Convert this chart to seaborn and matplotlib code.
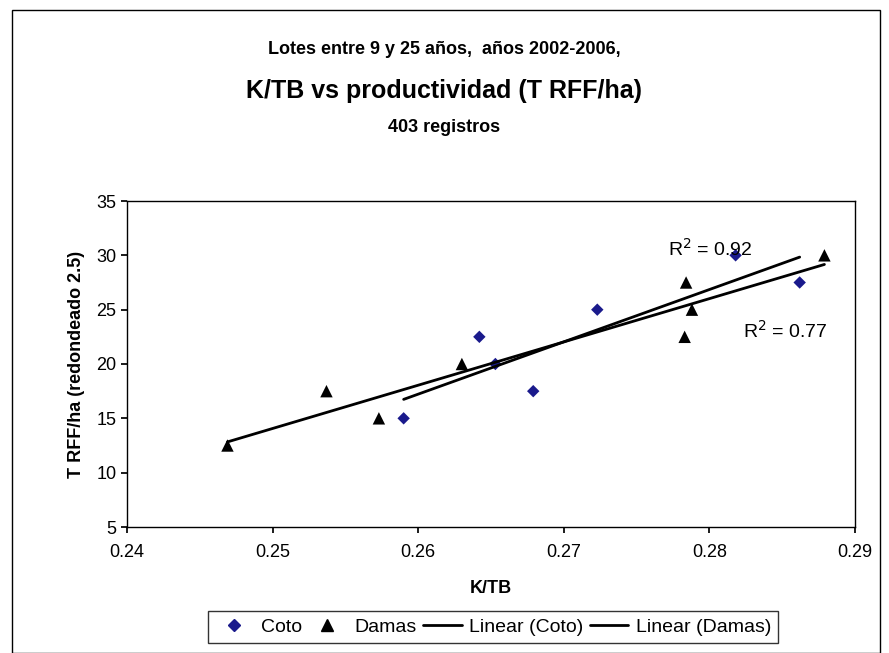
import numpy as np
import pandas as pd
import matplotlib
matplotlib.use("Agg")
import matplotlib.pyplot as plt
import seaborn as sns
from matplotlib.patches import Rectangle
from matplotlib.lines import Line2D

coto_x = [0.2590, 0.2642, 0.2653, 0.2679, 0.2723, 0.2818, 0.2862]
coto_y = [15, 22.5, 20, 17.5, 25, 30, 27.5]
damas_x = [0.2469, 0.2537, 0.2573, 0.2630, 0.2784, 0.2783, 0.2788, 0.2879]
damas_y = [12.5, 17.5, 15, 20, 27.5, 22.5, 25, 30]

sns.set_theme(style="white")
plt.rcParams['font.family'] = ['Liberation Sans', 'DejaVu Sans']
plt.rcParams['text.color'] = 'black'
plt.rcParams['axes.labelcolor'] = 'black'
plt.rcParams['xtick.color'] = 'black'
plt.rcParams['ytick.color'] = 'black'

fig = plt.figure(figsize=(8.89, 6.53), dpi=100)
ax = fig.add_axes([127/889, 1-527/653, (855-127)/889, (527-201)/653])

sns.scatterplot(x=coto_x, y=coto_y, marker='D', color='#1a1a8c', s=40,
                edgecolor='none', ax=ax)
sns.scatterplot(x=damas_x, y=damas_y, marker='^', color='black', s=80,
                edgecolor='none', ax=ax)

for xs, ys in [(coto_x, coto_y), (damas_x, damas_y)]:
    xs = np.array(xs); ys = np.array(ys)
    m, b = np.polyfit(xs, ys, 1)
    xx = np.array([xs.min(), xs.max()])
    ax.plot(xx, m * xx + b, color='black', lw=2)

ax.text(0.2801, 29.6, r'R$^2$ = 0.92', fontsize=14, ha='center', va='bottom')
ax.text(0.2852, 22.0, r'R$^2$ = 0.77', fontsize=14, ha='center', va='bottom')

ax.set_xlim(0.24, 0.29)
ax.set_ylim(5, 35)
ax.set_xticks([0.24, 0.25, 0.26, 0.27, 0.28, 0.29])
ax.set_xticklabels(['0.24', '0.25', '0.26', '0.27', '0.28', '0.29'])
ax.set_yticks(range(5, 36, 5))
ax.tick_params(labelsize=13, direction='out', length=4, left=True, bottom=True)
ax.tick_params(axis='x', pad=8)
for sp in ax.spines.values():
    sp.set_color('black'); sp.set_linewidth(1)
ax.set_xlabel('K/TB', fontsize=13, fontweight='bold', labelpad=14)
ax.set_ylabel('T RFF/ha (redondeado 2.5)', fontsize=13, fontweight='bold', labelpad=8)

fig.text(0.5, 1-50/653, 'Lotes entre 9 y 25 años,  años 2002-2006,', ha='center', va='center', fontsize=13, fontweight='bold')
fig.text(0.5, 1-91/653, 'K/TB vs productividad (T RFF/ha)', ha='center', va='center', fontsize=18, fontweight='bold')
fig.text(0.5, 1-127/653, '403 registros', ha='center', va='center', fontsize=13, fontweight='bold')

fig.patches.append(Rectangle((12/889, 0), (880-12)/889, 1-10/653, transform=fig.transFigure,
                             fill=False, edgecolor='black', lw=1))

handles = [
    Line2D([], [], marker='D', color='#1a1a8c', ls='none', markersize=6),
    Line2D([], [], marker='^', color='black', ls='none', markersize=9),
    Line2D([], [], color='black', lw=2),
    Line2D([], [], color='black', lw=2),
]
leg = fig.legend(handles, ['Coto', 'Damas', 'Linear (Coto)', 'Linear (Damas)'],
                 loc='center', bbox_to_anchor=(493/889, 1-627/653), ncol=4,
                 fontsize=14, frameon=True, fancybox=False, edgecolor='black',
                 handlelength=2.0, handletextpad=0.4, columnspacing=0.3, borderpad=0.35)
leg.get_frame().set_linewidth(1)

fig.savefig('out.png', dpi=100)
